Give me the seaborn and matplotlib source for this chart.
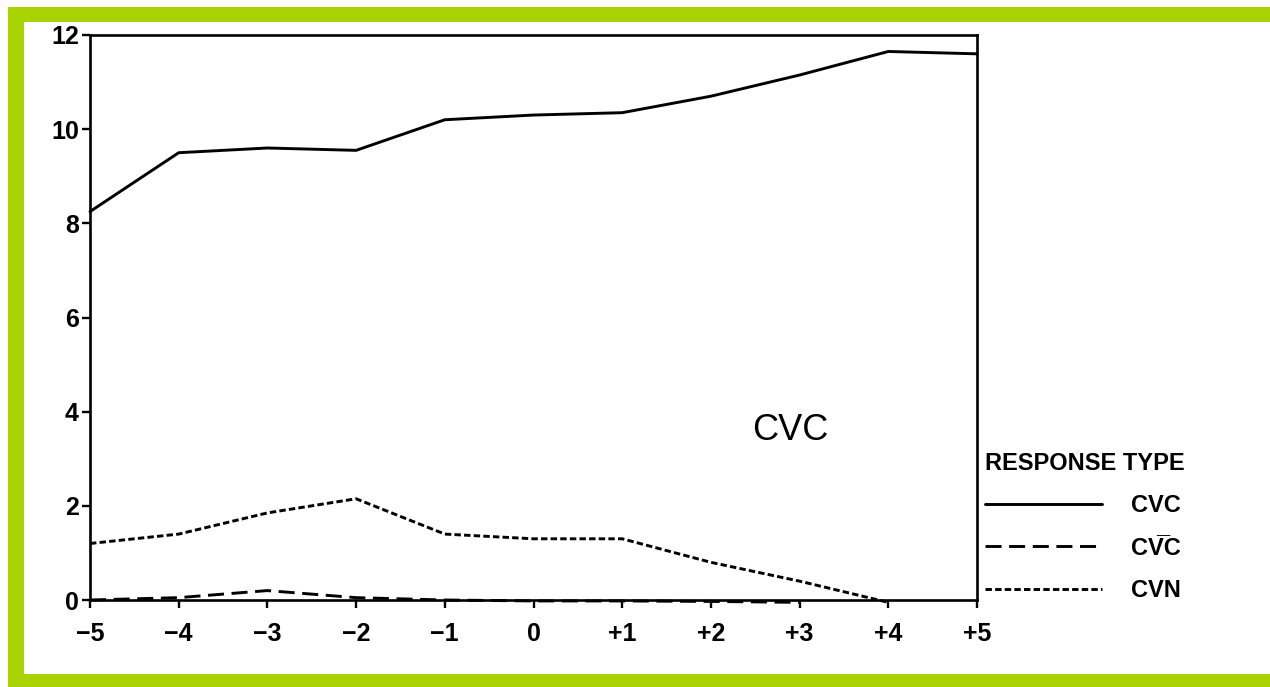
import numpy as np
import pandas as pd
import matplotlib
matplotlib.use("Agg")
import matplotlib.pyplot as plt
from matplotlib.patches import Rectangle
from matplotlib.lines import Line2D
import seaborn as sns

# data
positions = [-5, -4, -3, -2, -1, 0, 1, 2, 3, 4, 5]
tick_labels = ["\u22125", "\u22124", "\u22123", "\u22122", "\u22121", "0",
               "+1", "+2", "+3", "+4", "+5"]
cvc = [8.25, 9.5, 9.6, 9.55, 10.2, 10.3, 10.35, 10.7, 11.15, 11.65, 11.6]
cvbarc = [0.0, 0.05, 0.2, 0.05, 0.0, -0.02, -0.02, -0.03, -0.05, np.nan, np.nan]
cvn = [1.2, 1.4, 1.85, 2.15, 1.4, 1.3, 1.3, 0.8, 0.4, -0.05, np.nan]

lab_cvc = "CVC"
lab_cvbarc = "CV\u0305C"
lab_cvn = "CVN"

df = pd.DataFrame({
    "pos": positions * 3,
    "value": cvc + cvbarc + cvn,
    "type": [lab_cvc] * 11 + [lab_cvbarc] * 11 + [lab_cvn] * 11,
})

sns.set_theme(style="white")
plt.rcParams["font.family"] = ["Liberation Sans", "DejaVu Sans"]

W, H = 1270, 687
fig = plt.figure(figsize=(W / 100, H / 100), dpi=100)
fig.patch.set_facecolor("white")
ax = fig.add_axes([90 / W, 1 - 600 / H, (977 - 90) / W, (600 - 35) / H])

lw = 2.1
dash_map = {lab_cvc: "", lab_cvbarc: (5.5, 2.6), lab_cvn: (2.2, 1.1)}
sns.lineplot(data=df, x="pos", y="value", style="type", dashes=dash_map,
             color="black", linewidth=lw, legend=False, ax=ax)
for ln in ax.lines:
    ln.set_clip_on(False)

ax.set_xlim(-5, 5)
ax.set_ylim(0, 12)
ax.set_xticks(positions)
ax.set_xticklabels(tick_labels)
ax.set_yticks([0, 2, 4, 6, 8, 10, 12])
ax.set_xlabel("")
ax.set_ylabel("")
for s in ax.spines.values():
    s.set_color("black")
    s.set_linewidth(1.9)
# seaborn "white" hides tick marks, turn them back on
ax.tick_params(axis="both", which="major", bottom=True, left=True,
               direction="out", length=6, width=1.7,
               color="black", labelsize=18, labelcolor="black")
ax.tick_params(axis="y", pad=2)
ax.tick_params(axis="x", pad=10)
for t in ax.get_xticklabels() + ax.get_yticklabels():
    t.set_fontweight("bold")

ax.text(2.9, 3.6, "CVC", fontsize=26, ha="center", va="center", color="black")

# legend outside the plot box
handles = [Line2D([], [], color="black", lw=lw, linestyle="-"),
           Line2D([], [], color="black", lw=lw, dashes=dash_map[lab_cvbarc]),
           Line2D([], [], color="black", lw=lw, dashes=dash_map[lab_cvn])]
leg = fig.legend(handles, [lab_cvc, lab_cvbarc, lab_cvn], title="RESPONSE TYPE",
                 loc="upper left", bbox_to_anchor=(985 / W, 1 - 452 / H),
                 frameon=False, fontsize=17, title_fontsize=17,
                 handlelength=4.95, handletextpad=1.25, labelspacing=0.82,
                 borderpad=0, borderaxespad=0, alignment="left")
leg.get_title().set_fontweight("bold")
leg.get_title().set_color("black")
for t in leg.get_texts():
    t.set_fontweight("bold")
    t.set_color("black")

# green frame around the figure
green = "#a9d300"
fig.add_artist(Rectangle((8 / W, 1 - 22 / H), (W - 8) / W, 15 / H,
                         transform=fig.transFigure, color=green, lw=0))
fig.add_artist(Rectangle((8 / W, 0), 16 / W, 1 - 7 / H,
                         transform=fig.transFigure, color=green, lw=0))
fig.add_artist(Rectangle((8 / W, 0), (W - 8) / W, 13 / H,
                         transform=fig.transFigure, color=green, lw=0))

fig.savefig("out.png", dpi=100)
